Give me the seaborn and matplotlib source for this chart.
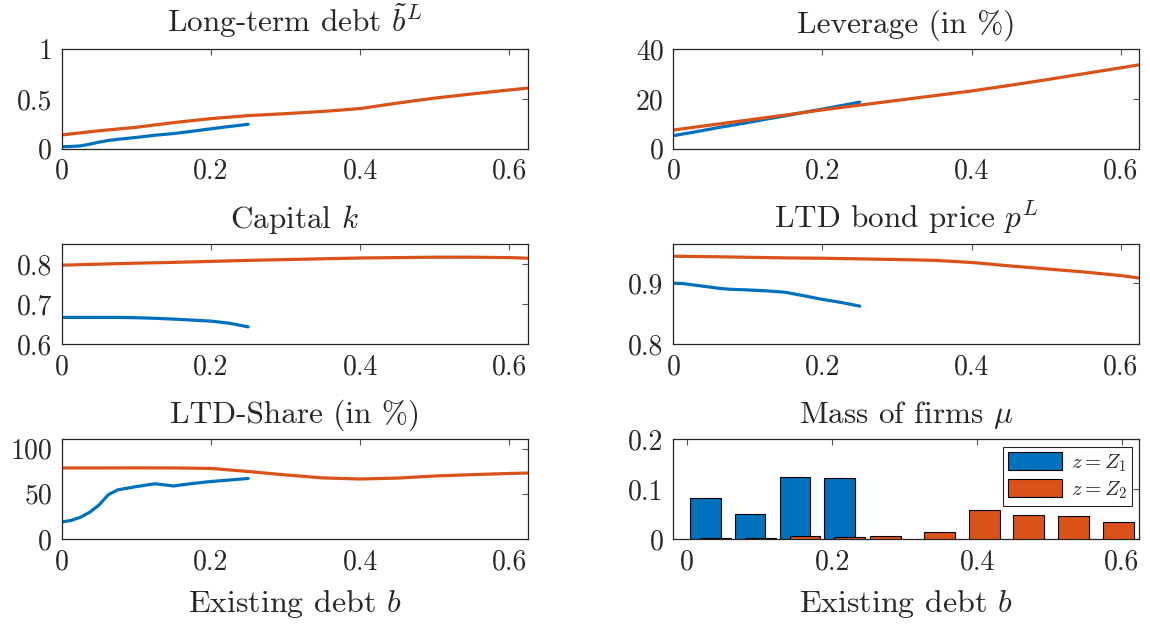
import numpy as np
import pandas as pd
import matplotlib
matplotlib.use("Agg")
import matplotlib.pyplot as plt
from matplotlib.patches import Patch
import seaborn as sns

# ---- data -------------------------------------------------------------
# existing-debt grids for the two productivity states
b_Z1 = [0, 0.0125, 0.025, 0.0375, 0.05, 0.0625, 0.075, 0.1, 0.125, 0.15,
        0.175, 0.2, 0.225, 0.25]
b_Z2 = [0, 0.05, 0.1, 0.15, 0.2, 0.25, 0.3, 0.35, 0.4, 0.45, 0.5, 0.55,
        0.6, 0.6245]

ltd_Z1 = [0.02, 0.022, 0.028, 0.045, 0.066, 0.082, 0.094, 0.113, 0.135,
          0.152, 0.175, 0.2, 0.223, 0.245]
ltd_Z2 = [0.138, 0.18, 0.215, 0.262, 0.302, 0.332, 0.352, 0.374, 0.403,
          0.458, 0.508, 0.55, 0.59, 0.608]

lev_Z1 = [5.2, 5.9, 6.5, 7.2, 7.9, 8.6, 9.2, 10.5, 11.9, 13.2, 14.6, 15.9,
          17.3, 18.7]
lev_Z2 = [7.5, 9.5, 11.5, 13.5, 15.6, 17.5, 19.4, 21.3, 23.2, 25.4, 27.7,
          30.1, 32.5, 33.7]

cap_Z1 = [0.6667, 0.6667, 0.6667, 0.6667, 0.6667, 0.6667, 0.6667, 0.666,
          0.6645, 0.6625, 0.66, 0.6575, 0.652, 0.643]
cap_Z2 = [0.798, 0.8005, 0.803, 0.805, 0.8075, 0.81, 0.812, 0.814, 0.816,
          0.817, 0.818, 0.818, 0.817, 0.8155]

price_Z1 = [0.8995, 0.899, 0.897, 0.895, 0.893, 0.891, 0.8897, 0.8885,
            0.887, 0.8847, 0.879, 0.873, 0.868, 0.862]
price_Z2 = [0.9437, 0.943, 0.942, 0.941, 0.9404, 0.9394, 0.9383, 0.937,
            0.9335, 0.928, 0.923, 0.918, 0.912, 0.908]

share_Z1 = [18.8, 20.5, 24.0, 29.5, 37.6, 49.0, 54.3, 57.9, 61.0, 58.6,
            61.3, 63.5, 65.2, 66.9]
share_Z2 = [78.5, 78.5, 78.6, 78.5, 78.0, 74.6, 70.8, 67.5, 66.3, 67.3,
            69.6, 71.1, 72.4, 72.9]

# distribution of firms over existing debt
mass_b_Z1 = [0.0248, 0.0865, 0.1488, 0.2104]
mass_Z1 = [0.083, 0.050, 0.124, 0.122]
mass_b_Z2 = [0.0386, 0.1007, 0.1623, 0.224, 0.2738, 0.3481, 0.41, 0.4713,
             0.5334, 0.595]
mass_Z2 = [0.001, 0.001, 0.005, 0.004, 0.005, 0.014, 0.059, 0.049, 0.046,
           0.035]

series_labels = [r"$z=Z_1$", r"$z=Z_2$"]
x_ticks = [0, 0.2, 0.4, 0.6]
x_ticklabels = ["0", "0.2", "0.4", "0.6"]

# ---- style ------------------------------------------------------------
sns.set_theme(style="white")
plt.rcParams["font.family"] = ["cmr10", "DejaVu Serif"]
plt.rcParams["mathtext.fontset"] = "cm"
plt.rcParams["axes.formatter.use_mathtext"] = True
plt.rcParams["axes.unicode_minus"] = False

BLUE = "#0072BD"
ORANGE = "#D95319"
INK = "#262626"
LW = 2.3
TICK_FS = 20
TITLE_FS = 22.5
LABEL_FS = 23
TITLE_PAD = 12

fig = plt.figure(figsize=(11.5, 6.26), dpi=100)

left_x, right_x, w = 0.0537, 0.5855, 0.405
rows = [0.7625, 0.4505, 0.139]
h = 0.159

axes = [[fig.add_axes([left_x, r, w, h]), fig.add_axes([right_x, r, w, h])]
        for r in rows]


def style_axis(ax, ylim, yticks, yticklabels, xlim=(0, 0.6245)):
    ax.set_xlim(*xlim)
    ax.set_ylim(*ylim)
    ax.set_xticks(x_ticks)
    ax.set_xticklabels(x_ticklabels)
    ax.set_yticks(yticks)
    ax.set_yticklabels(yticklabels)
    ax.tick_params(direction="in", top=True, right=True, length=4.5,
                   width=0.8, color="#555555", labelsize=TICK_FS,
                   labelcolor=INK, pad=7)
    for s in ax.spines.values():
        s.set_color(INK)
        s.set_linewidth(0.9)
    ax.set_xlabel("")
    ax.set_ylabel("")


def draw_pair(ax, y1, y2):
    sns.lineplot(x=b_Z1, y=y1, ax=ax, color=BLUE, linewidth=LW)
    sns.lineplot(x=b_Z2, y=y2, ax=ax, color=ORANGE, linewidth=LW)


def set_title(ax, text):
    ax.set_title(text, fontsize=TITLE_FS, color=INK, pad=TITLE_PAD)


def set_xlabel(ax):
    ax.set_xlabel(r"Existing debt $b$", fontsize=LABEL_FS, color=INK,
                  labelpad=9)


# Long-term debt
ax = axes[0][0]
draw_pair(ax, ltd_Z1, ltd_Z2)
style_axis(ax, (0, 1), [0, 0.5, 1], ["0", "0.5", "1"])
set_title(ax, r"Long-term debt $\tilde{b}^L$")

# Leverage
ax = axes[0][1]
draw_pair(ax, lev_Z1, lev_Z2)
style_axis(ax, (0, 40), [0, 20, 40], ["0", "20", "40"])
set_title(ax, "Leverage (in %)")

# Capital
ax = axes[1][0]
draw_pair(ax, cap_Z1, cap_Z2)
style_axis(ax, (0.6, 0.85), [0.6, 0.7, 0.8], ["0.6", "0.7", "0.8"])
set_title(ax, r"Capital $k$")

# LTD bond price
ax = axes[1][1]
draw_pair(ax, price_Z1, price_Z2)
style_axis(ax, (0.8, 0.963), [0.8, 0.9], ["0.8", "0.9"])
set_title(ax, r"LTD bond price $p^L$")

# LTD share
ax = axes[2][0]
draw_pair(ax, share_Z1, share_Z2)
style_axis(ax, (0, 110), [0, 50, 100], ["0", "50", "100"])
set_title(ax, "LTD-Share (in %)")
set_xlabel(ax)

# Mass of firms
ax = axes[2][1]
bar_w = 0.0423
ax.bar(mass_b_Z1, mass_Z1, width=bar_w, color=BLUE, edgecolor="black",
       linewidth=0.8, zorder=2)
ax.bar(mass_b_Z2, mass_Z2, width=bar_w, color=ORANGE, edgecolor="black",
       linewidth=0.8, zorder=3)
style_axis(ax, (0, 0.2), [0, 0.1, 0.2], ["0", "0.1", "0.2"],
           xlim=(-0.0193, 0.6235))
set_title(ax, r"Mass of firms $\mu$")
set_xlabel(ax)
handles = [Patch(facecolor=BLUE, edgecolor="black", linewidth=0.8),
           Patch(facecolor=ORANGE, edgecolor="black", linewidth=0.8)]
leg = ax.legend(handles, series_labels, loc="upper right", fontsize=15,
                fancybox=False, framealpha=1, edgecolor=INK,
                handlelength=2.6, handleheight=0.95, borderpad=0.25,
                labelspacing=0.25, handletextpad=0.4, borderaxespad=0.35)
leg.get_frame().set_linewidth(0.8)

fig.savefig("out.png", dpi=100)
